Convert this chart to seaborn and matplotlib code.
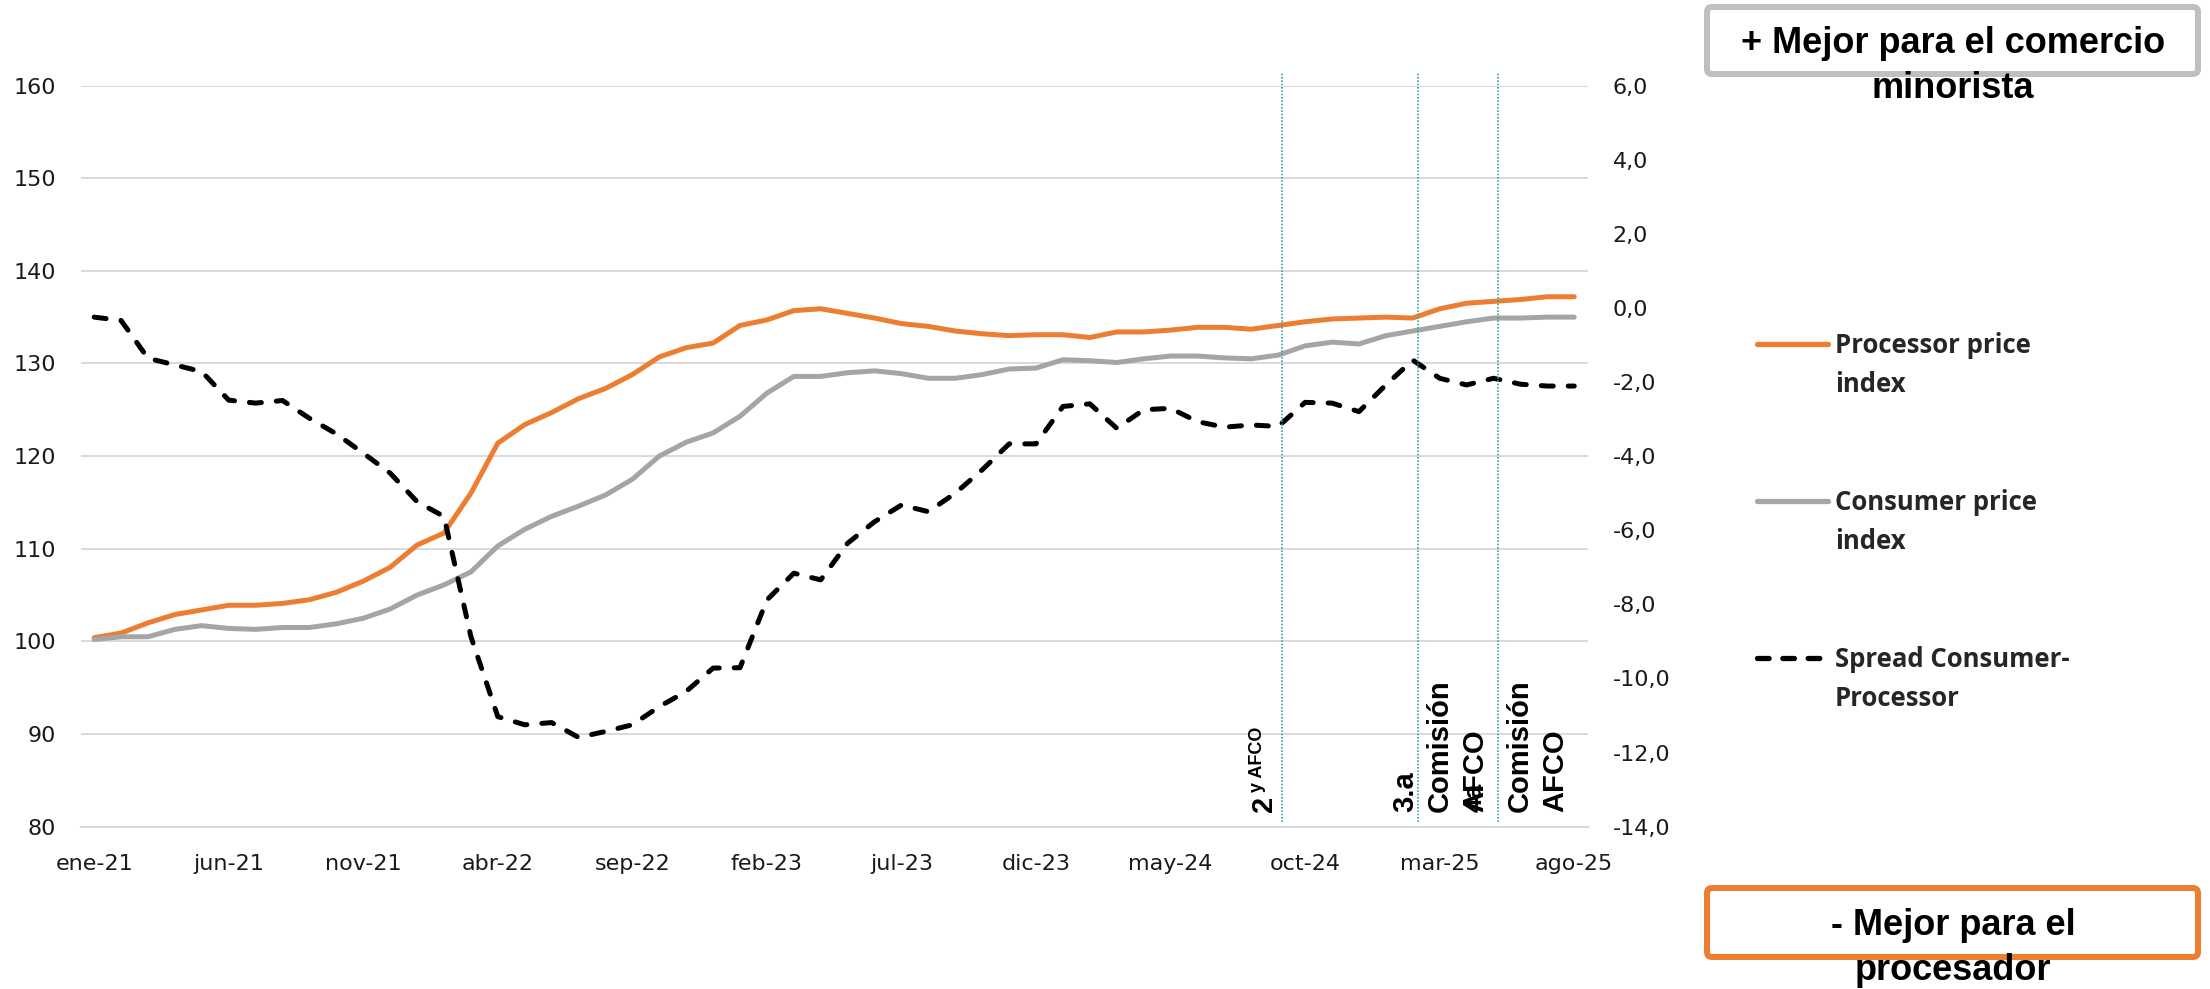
import numpy as np
import pandas as pd
import matplotlib
matplotlib.use("Agg")
import matplotlib.pyplot as plt
from matplotlib.lines import Line2D
from matplotlib.patches import FancyBboxPatch
from matplotlib.transforms import IdentityTransform
import seaborn as sns

# ---- data ----
month_names = ["ene", "feb", "mar", "abr", "may", "jun", "jul", "ago", "sep", "oct", "nov", "dic"]
months = [f"{m}-{y}" for y in range(21, 26) for m in month_names][:56]   # ene-21 .. ago-25
tick_labels = ["ene-21", "jun-21", "nov-21", "abr-22", "sep-22", "feb-23",
               "jul-23", "dic-23", "may-24", "oct-24", "mar-25", "ago-25"]

processor = [100.4, 100.9, 102.0, 102.9, 103.4, 103.9, 103.9, 104.1, 104.5, 105.3,
             106.5, 108.0, 110.4, 111.7, 116.0, 121.4, 123.4, 124.7, 126.2, 127.3,
             128.8, 130.7, 131.7, 132.2, 134.1, 134.7, 135.7, 135.9, 135.4, 134.9,
             134.3, 134.0, 133.5, 133.2, 133.0, 133.1, 133.1, 132.8, 133.4, 133.4,
             133.6, 133.9, 133.9, 133.7, 134.1, 134.5, 134.8, 134.9, 135.0, 134.9,
             135.9, 136.5, 136.7, 136.9, 137.2, 137.2]
consumer = [100.2, 100.5, 100.5, 101.3, 101.7, 101.4, 101.3, 101.5, 101.5, 101.9,
            102.5, 103.5, 105.0, 106.1, 107.5, 110.3, 112.1, 113.5, 114.6, 115.8,
            117.5, 120.0, 121.5, 122.5, 124.3, 126.8, 128.6, 128.6, 129.0, 129.2,
            128.9, 128.4, 128.4, 128.8, 129.4, 129.5, 130.4, 130.3, 130.1, 130.5,
            130.8, 130.8, 130.6, 130.5, 130.9, 131.9, 132.3, 132.1, 133.0, 133.5,
            134.0, 134.5, 134.9, 134.9, 135.0, 135.0]
spread = [-0.25, -0.34, -1.36, -1.54, -1.72, -2.49, -2.57, -2.50, -2.98, -3.40,
          -3.92, -4.46, -5.23, -5.63, -8.87, -11.03, -11.25, -11.19, -11.59, -11.43,
          -11.25, -10.76, -10.35, -9.72, -9.71, -7.88, -7.16, -7.34, -6.35, -5.77,
          -5.32, -5.50, -5.00, -4.37, -3.67, -3.67, -2.66, -2.59, -3.25, -2.75,
          -2.71, -3.07, -3.22, -3.16, -3.20, -2.55, -2.57, -2.80, -2.08, -1.41,
          -1.90, -2.08, -1.90, -2.06, -2.11, -2.11]

event_pos = [44.14, 49.21, 52.18]   # vertical markers (month index)

ORANGE = "#ED7D31"
GREY = "#A5A5A5"
TEAL = "#3A9FA8"
GRID = "#D9D9D9"

df = pd.DataFrame({"month": months, "idx": np.arange(len(months)),
                   "processor": processor, "consumer": consumer, "spread": spread})

sns.set_style("white")
plt.rcParams["font.family"] = ["DejaVu Sans"]

W, H = 2210, 989
fig = plt.figure(figsize=(W / 100, H / 100), dpi=100)
ax = fig.add_axes([80.7 / W, 1 - 826.7 / H, (1587.7 - 80.7) / W, (826.7 - 85.5) / H])
ax2 = ax.twinx()

sns.lineplot(data=df, x="idx", y="processor", ax=ax, color=ORANGE, linewidth=3.6,
             solid_joinstyle="round", solid_capstyle="round")
sns.lineplot(data=df, x="idx", y="consumer", ax=ax, color=GREY, linewidth=3.6,
             solid_joinstyle="round", solid_capstyle="round")
sns.lineplot(data=df, x="idx", y="spread", ax=ax2, color="black", linewidth=3.6,
             linestyle=(0, (2.4, 3.0)), dash_capstyle="round", dash_joinstyle="round")

# axes limits / ticks
ax.set_xlim(-0.5, 55.5)
ax.set_ylim(80, 160)
ax2.set_ylim(-14, 6)
ax.set_yticks(range(80, 161, 10))
ax2.set_yticks(range(-14, 7, 2))
ax2.set_yticklabels([f"{v:.1f}".replace(".", ",") for v in range(-14, 7, 2)])

ax.set_xticks(np.arange(-0.5, 55, 5))
ax.set_xticks(np.arange(0, 56, 5), minor=True)
ax.set_xticklabels([], minor=False)
ax.set_xticklabels(tick_labels, minor=True)
ax.tick_params(axis="x", which="major", length=8, width=1.5, color=GRID, labelbottom=False)
ax.tick_params(axis="x", which="minor", length=0, pad=20, labelsize=16, labelcolor="#1a1a1a")
ax.tick_params(axis="y", length=0, pad=18, labelsize=16, labelcolor="#1a1a1a")
ax2.tick_params(axis="y", length=0, pad=18, labelsize=16, labelcolor="#1a1a1a")

for a in (ax, ax2):
    a.set_xlabel("")
    a.set_ylabel("")
    for s in ("top", "left", "right"):
        a.spines[s].set_visible(False)
ax2.spines["bottom"].set_visible(False)
ax.spines["bottom"].set_color(GRID)
ax.spines["bottom"].set_linewidth(1.5)
ax.yaxis.grid(True, color=GRID, linewidth=1.4)
ax.xaxis.grid(False)
ax.set_axisbelow(True)

# vertical event lines
for xp in event_pos:
    ax2.axvline(xp, ymin=0.0063, ymax=1.0169, color=TEAL, linewidth=1.2,
                linestyle=(0, (1, 1)), clip_on=False, zorder=5)


def xd(px):
    return (px - 92.5) / 26.94


def yd(py):
    return 80 + (826.7 - py) / 9.265


bold = dict(rotation=90, fontweight="bold", family=["Liberation Sans", "DejaVu Sans"],
            color="black", va="bottom", ha="right")
ax.text(xd(1278), yd(812), "2", fontsize=21, **bold)
ax.text(xd(1266), yd(792), "y AFCO", fontsize=13, **bold)
ax.text(xd(1419), yd(812), "3.a", fontsize=21, **bold)
ax.text(xd(1454), yd(812), "Comisión", fontsize=21, **bold)
ax.text(xd(1489), yd(812), "AFCO", fontsize=21, **bold)
ax.text(xd(1486), yd(812), "4a", fontsize=19, **bold)
ax.text(xd(1534), yd(812), "Comisión", fontsize=21, **bold)
ax.text(xd(1569), yd(812), "AFCO", fontsize=21, **bold)


# ---- legend (drawn by hand to mimic the wrapped Excel legend) ----
def fx(px):
    return px / W


def fy(py):
    return 1 - py / H


legend_items = [
    (ORANGE, "-", 344, ["Processor price", "index"]),
    (GREY, "-", 501, ["Consumer price", "index"]),
    ("black", (0, (2.2, 2.6)), 658, ["Spread Consumer-", "Processor"]),
]
for col, ls, ly, lines in legend_items:
    ln = Line2D([fx(1757), fx(1828)], [fy(ly), fy(ly)], transform=fig.transFigure,
                color=col, linewidth=3.8, linestyle=ls, solid_capstyle="round",
                dash_capstyle="round")
    fig.add_artist(ln)
    for k, t in enumerate(lines):
        fig.text(fx(1835), fy(ly + 9 + 39 * k), t, fontsize=18.5, fontweight="bold",
                 family=["Open Sans", "DejaVu Sans"], va="baseline", ha="left")

# ---- annotation boxes ----
top_box = FancyBboxPatch((1707, H - 74), 491, 67, boxstyle="round,pad=0,rounding_size=5",
                         transform=IdentityTransform(), facecolor="white",
                         edgecolor="#BFBFBF", linewidth=4.3)
bot_box = FancyBboxPatch((1707, H - 957), 491, 69, boxstyle="round,pad=0,rounding_size=5",
                         transform=IdentityTransform(), facecolor="white",
                         edgecolor=ORANGE, linewidth=4.3)
fig.add_artist(top_box)
fig.add_artist(bot_box)

box_txt = dict(fontsize=26, fontweight="bold", family=["Liberation Sans", "DejaVu Sans"],
               ha="center", va="baseline", color="black")
fig.text(fx(1953), fy(53), "+ Mejor para el comercio", **box_txt)
fig.text(fx(1953), fy(98), "minorista", **box_txt)
fig.text(fx(1953), fy(935), "- Mejor para el", **box_txt)
fig.text(fx(1953), fy(980), "procesador", **box_txt)

fig.savefig("out.png", dpi=100)
